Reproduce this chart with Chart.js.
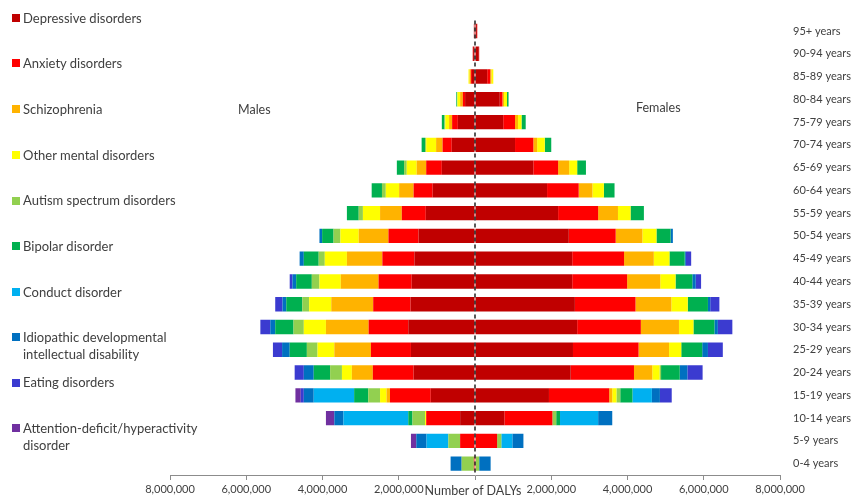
<!DOCTYPE html>
<html>
<head>
<meta charset="utf-8">
<script src="https://cdn.jsdelivr.net/npm/chart.js@4.4.1/dist/chart.umd.min.js"></script>
<style>
  html, body { margin: 0; padding: 0; background: #ffffff; }
  #wrap { position: relative; width: 859px; height: 500px; overflow: hidden; font-family: Lato, "Open Sans", sans-serif; color: #404040; }
  #c { position: absolute; left: 0; top: 0; }
  .lg { position: absolute; left: 12px; font-size: 13px; line-height: 17px; white-space: nowrap; }
  .lg i { position: absolute; left: 0; top: 4.5px; width: 8px; height: 8px; }
  .lg span { position: absolute; left: 11px; top: 0; }
  .lbl { position: absolute; font-size: 12.5px; line-height: 14px; white-space: nowrap; }
</style>
</head>
<body>
<div id="wrap">
  <canvas id="c" width="859" height="500"></canvas>
  <div id="legend"></div>
  <div class="lbl" style="left:238px; top:103px;">Males</div>
  <div class="lbl" style="left:636px; top:101px;">Females</div>
  <div class="lbl" style="left:473px; top:484px; font-size:12.5px; transform:translateX(-50%);">Number of DALYs</div>
</div>
<script>
const ageGroups = ['95+ years','90-94 years','85-89 years','80-84 years','75-79 years','70-74 years','65-69 years','60-64 years','55-59 years','50-54 years','45-49 years','40-44 years','35-39 years','30-34 years','25-29 years','20-24 years','15-19 years','10-14 years','5-9 years','0-4 years'];

const disorderNames = ['Depressive disorders','Anxiety disorders','Schizophrenia','Other mental disorders','Autism spectrum disorders','Bipolar disorder','Conduct disorder','Idiopathic developmental\nintellectual disability','Eating disorders','Attention-deficit/hyperactivity\ndisorder'];
const disorderColors = ['#C00000','#FF0000','#FFB300','#FFFF00','#92D050','#00B050','#00B0F0','#0070C0','#3B3BD0','#7030A0'];

// Males (DALYs)
const maleDepressive   = [30000, 50000, 80000, 260000, 450000, 610000, 870000, 1110000, 1290000, 1480000, 1590000, 1660000, 1690000, 1750000, 1680000, 1610000, 1160000, 390000, 20000, 0];
const maleAnxiety      = [0, 10000, 30000, 60000, 150000, 240000, 410000, 500000, 630000, 790000, 840000, 870000, 980000, 1040000, 1050000, 1070000, 1070000, 890000, 370000, 30000];
const maleSchizophrenia= [0, 0, 30000, 70000, 80000, 170000, 250000, 380000, 570000, 780000, 930000, 990000, 1100000, 1120000, 960000, 550000, 90000, 0, 0, 0];
const maleOther        = [0, 0, 30000, 70000, 100000, 260000, 260000, 350000, 450000, 480000, 580000, 560000, 580000, 580000, 440000, 260000, 170000, 30000, 0, 0];
const maleAutism       = [0, 0, 0, 10000, 20000, 30000, 70000, 100000, 110000, 180000, 160000, 200000, 180000, 270000, 280000, 310000, 310000, 330000, 310000, 320000];
const maleBipolar      = [0, 0, 0, 20000, 70000, 90000, 190000, 270000, 310000, 300000, 390000, 410000, 420000, 480000, 450000, 430000, 370000, 110000, 0, 0];
const maleConduct      = [0, 0, 0, 0, 0, 0, 0, 0, 0, 0, 0, 0, 0, 0, 0, 0, 1060000, 1700000, 570000, 0];
const maleIdiopathic   = [0, 0, 0, 0, 0, 0, 0, 0, 0, 70000, 110000, 100000, 100000, 130000, 200000, 260000, 260000, 240000, 270000, 290000];
const maleEating       = [0, 0, 0, 0, 0, 0, 0, 0, 0, 0, 0, 70000, 190000, 260000, 240000, 240000, 80000, 0, 0, 0];
const maleADHD         = [0, 0, 0, 0, 0, 0, 0, 0, 0, 0, 0, 0, 0, 0, 0, 0, 140000, 220000, 140000, 0];

// Females (DALYs)
const femaleDepressive   = [50000, 100000, 320000, 650000, 740000, 1050000, 1530000, 1890000, 2180000, 2460000, 2550000, 2550000, 2620000, 2680000, 2570000, 2510000, 1940000, 770000, 0, 0];
const femaleAnxiety      = [10000, 10000, 80000, 70000, 310000, 480000, 650000, 830000, 1050000, 1230000, 1360000, 1440000, 1590000, 1670000, 1720000, 1660000, 1580000, 1260000, 580000, 20000];
const femaleSchizophrenia= [0, 0, 30000, 40000, 80000, 100000, 290000, 360000, 520000, 700000, 780000, 870000, 940000, 1000000, 800000, 480000, 80000, 0, 0, 0];
const femaleOther        = [0, 0, 50000, 80000, 90000, 200000, 210000, 300000, 330000, 370000, 410000, 400000, 430000, 380000, 320000, 190000, 110000, 0, 0, 0];
const femaleAutism       = [0, 0, 0, 0, 0, 0, 0, 0, 0, 0, 0, 0, 0, 0, 0, 40000, 100000, 100000, 110000, 90000];
const femaleBipolar      = [0, 0, 0, 40000, 110000, 170000, 230000, 280000, 350000, 370000, 400000, 440000, 530000, 550000, 550000, 490000, 320000, 100000, 0, 0];
const femaleConduct      = [0, 0, 0, 0, 0, 0, 0, 0, 0, 0, 0, 0, 0, 0, 0, 0, 510000, 1000000, 290000, 0];
const femaleIdiopathic   = [0, 0, 0, 0, 0, 0, 0, 0, 0, 60000, 30000, 90000, 60000, 90000, 150000, 200000, 210000, 370000, 290000, 300000];
const femaleEating       = [0, 0, 0, 0, 0, 0, 0, 0, 0, 0, 140000, 140000, 240000, 380000, 390000, 400000, 310000, 0, 0, 0];
const femaleADHD         = [0, 0, 0, 0, 0, 0, 0, 0, 0, 0, 0, 0, 0, 0, 0, 0, 0, 0, 0, 0];

const xTicks = [-8000000, -6000000, -4000000, -2000000, 0, 2000000, 4000000, 6000000, 8000000];

const maleSeries = [maleDepressive, maleAnxiety, maleSchizophrenia, maleOther, maleAutism, maleBipolar, maleConduct, maleIdiopathic, maleEating, maleADHD];
const femaleSeries = [femaleDepressive, femaleAnxiety, femaleSchizophrenia, femaleOther, femaleAutism, femaleBipolar, femaleConduct, femaleIdiopathic, femaleEating, femaleADHD];

// Legend (HTML)
const legendTops = [18, 63, 109, 155, 200.5, 246, 292, 337, 382.5, 428];
const legendEl = document.getElementById('legend');
disorderNames.forEach((n, i) => {
  const d = document.createElement('div');
  d.className = 'lg';
  d.style.top = (legendTops[i] - 8.5) + 'px';
  const sq = document.createElement('i');
  sq.style.background = disorderColors[i];
  const t = document.createElement('span');
  t.innerHTML = n.replace('\n', '<br>');
  d.appendChild(sq); d.appendChild(t);
  legendEl.appendChild(d);
});

const datasets = [];
maleSeries.forEach((arr, i) => {
  datasets.push({ label: 'Males ' + disorderNames[i], data: arr.map(v => -v), backgroundColor: disorderColors[i], stack: 's', borderWidth: 0 });
});
femaleSeries.forEach((arr, i) => {
  datasets.push({ label: 'Females ' + disorderNames[i], data: arr.slice(), backgroundColor: disorderColors[i], stack: 's', borderWidth: 0 });
});

const centerLine = {
  id: 'centerLine',
  afterDatasetsDraw(chart) {
    const ctx = chart.ctx, x = chart.scales.x.getPixelForValue(0);
    const a = chart.chartArea;
    ctx.save();
    ctx.strokeStyle = '#222';
    ctx.lineWidth = 1.5;
    ctx.setLineDash([4, 3]);
    ctx.beginPath();
    ctx.moveTo(x, a.top + 1);
    ctx.lineTo(x, a.bottom);
    ctx.stroke();
    ctx.restore();
  }
};

new Chart(document.getElementById('c'), {
  type: 'bar',
  data: { labels: ageGroups, datasets },
  options: {
    responsive: false,
    animation: false,
    indexAxis: 'y',
    layout: { padding: { left: 170, top: 15, right: 0, bottom: 0 } },
    plugins: { legend: { display: false }, tooltip: { enabled: false } },
    datasets: { bar: { categoryPercentage: 1, barPercentage: 0.63 } },
    scales: {
      x: {
        stacked: true,
        min: -8000000, max: 8000000,
        afterBuildTicks: s => { s.ticks = xTicks.map(v => ({ value: v })); },
        afterFit: s => { s.height = 25; },
        grid: { drawOnChartArea: false, drawTicks: true, tickLength: 5, color: '#8c8c8c' },
        border: { display: true, color: '#8c8c8c' },
        ticks: {
          padding: 3, color: '#404040', maxRotation: 0, autoSkip: false,
          font: { family: 'Lato', size: 11 },
          callback: v => v === 0 ? '' : Math.abs(v).toLocaleString('en-US')
        }
      },
      y: {
        stacked: true,
        position: 'right',
        afterFit: s => { s.width = 79; },
        grid: { display: false, drawTicks: false },
        border: { display: false },
        ticks: { padding: 13, color: '#404040', font: { family: 'Lato', size: 11 } }
      }
    }
  },
  plugins: [centerLine]
});
</script>
</body>
</html>
